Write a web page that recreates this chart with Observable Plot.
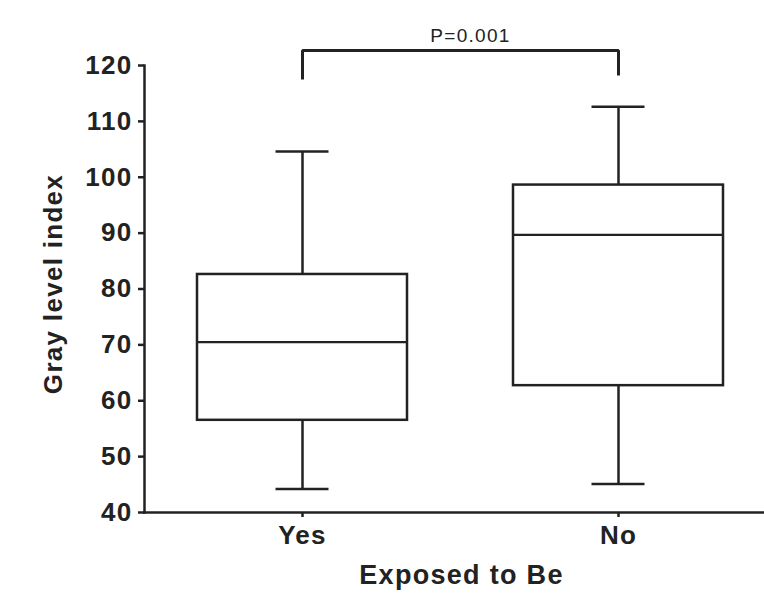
<!DOCTYPE html>
<html>
<head>
<meta charset="utf-8">
<script src="https://cdn.jsdelivr.net/npm/d3@7"></script>
<script src="https://cdn.jsdelivr.net/npm/@observablehq/plot@0.6"></script>
<style>
  html, body { margin: 0; padding: 0; background: #fff; }
</style>
</head>
<body>
<div id="chart"></div>
<script>
const groups = ["Yes", "No"];
const whiskerLow = [44.2, 45.1];
const q1 = [56.5, 62.7];
const median = [70.5, 89.7];
const q3 = [82.6, 98.6];
const whiskerHigh = [104.6, 112.6];
const yTicks = [40, 50, 60, 70, 80, 90, 100, 110, 120];
const bracketGroups = ["Yes", "Yes", "No", "No"];
const bracketY = [117.5, 122.7, 122.7, 118.2];
const pLabel = "P=0.001";
const yLabel = "Gray level index";
const xLabel = "Exposed to Be";

const tbl = groups.map((g, i) => ({group: g, lo: whiskerLow[i], q1: q1[i], med: median[i], q3: q3[i], hi: whiskerHigh[i]}));
const bracket = bracketGroups.map((g, i) => ({group: g, y: bracketY[i]}));

const ink = "#222";
const font = "'Liberation Sans', Arial, Helvetica, sans-serif";

const chart = Plot.plot({
  width: 764,
  height: 603,
  marginLeft: 144,
  marginRight: 0,
  marginTop: 65,
  marginBottom: 91,
  style: {fontFamily: font, color: ink, background: "#fff"},
  x: {domain: groups, paddingInner: 0.334, paddingOuter: 0.146, align: 0.562},
  y: {domain: [40, 120]},
  marks: [
    Plot.ruleX(tbl, {x: "group", y1: "q3", y2: "hi", stroke: ink, strokeWidth: 2.5}),
    Plot.ruleX(tbl, {x: "group", y1: "lo", y2: "q1", stroke: ink, strokeWidth: 2.5}),
    Plot.barY(tbl, {x: "group", y1: "q1", y2: "q3", fill: "white", stroke: ink, strokeWidth: 2.5}),
    Plot.tickY(tbl, {x: "group", y: "med", stroke: ink, strokeWidth: 2.3}),
    Plot.tickY(tbl, {x: "group", y: "hi", insetLeft: 78.5, insetRight: 78.5, stroke: ink, strokeWidth: 2.5}),
    Plot.tickY(tbl, {x: "group", y: "lo", insetLeft: 78.5, insetRight: 78.5, stroke: ink, strokeWidth: 2.5}),
    Plot.axisY({ticks: yTicks, tickSize: 6, tickPadding: 6, fontSize: 26, fontWeight: "bold", stroke: ink, strokeWidth: 2.5, label: null}),
    Plot.axisX({tickSize: 5, tickPadding: 8, fontSize: 26, fontWeight: "bold", stroke: ink, strokeWidth: 2.5, label: null}),
    Plot.frame({anchor: "left", stroke: ink, strokeWidth: 2.5}),
    Plot.frame({anchor: "bottom", stroke: ink, strokeWidth: 2.5}),
    Plot.line(bracket, {x: "group", y: "y", stroke: ink, strokeWidth: 3, strokeLinejoin: "miter", strokeLinecap: "butt"}),
    Plot.text([pLabel], {frameAnchor: "top", text: d => d, dx: 16, dy: -37, lineAnchor: "top", fontSize: 19, fill: ink}),
    Plot.text([yLabel], {frameAnchor: "left", text: d => d, rotate: -90, textAnchor: "middle", dx: -101, dy: -5, lineAnchor: "top", fontSize: 26, fontWeight: "bold", fill: ink}),
    Plot.text([xLabel], {frameAnchor: "bottom", text: d => d, dx: 7, dy: 52, lineAnchor: "top", fontSize: 27, fontWeight: "bold", fill: ink})
  ]
});

d3.select(chart).selectAll("text").attr("letter-spacing", "1.3px");
document.getElementById("chart").append(chart);
</script>
</body>
</html>
